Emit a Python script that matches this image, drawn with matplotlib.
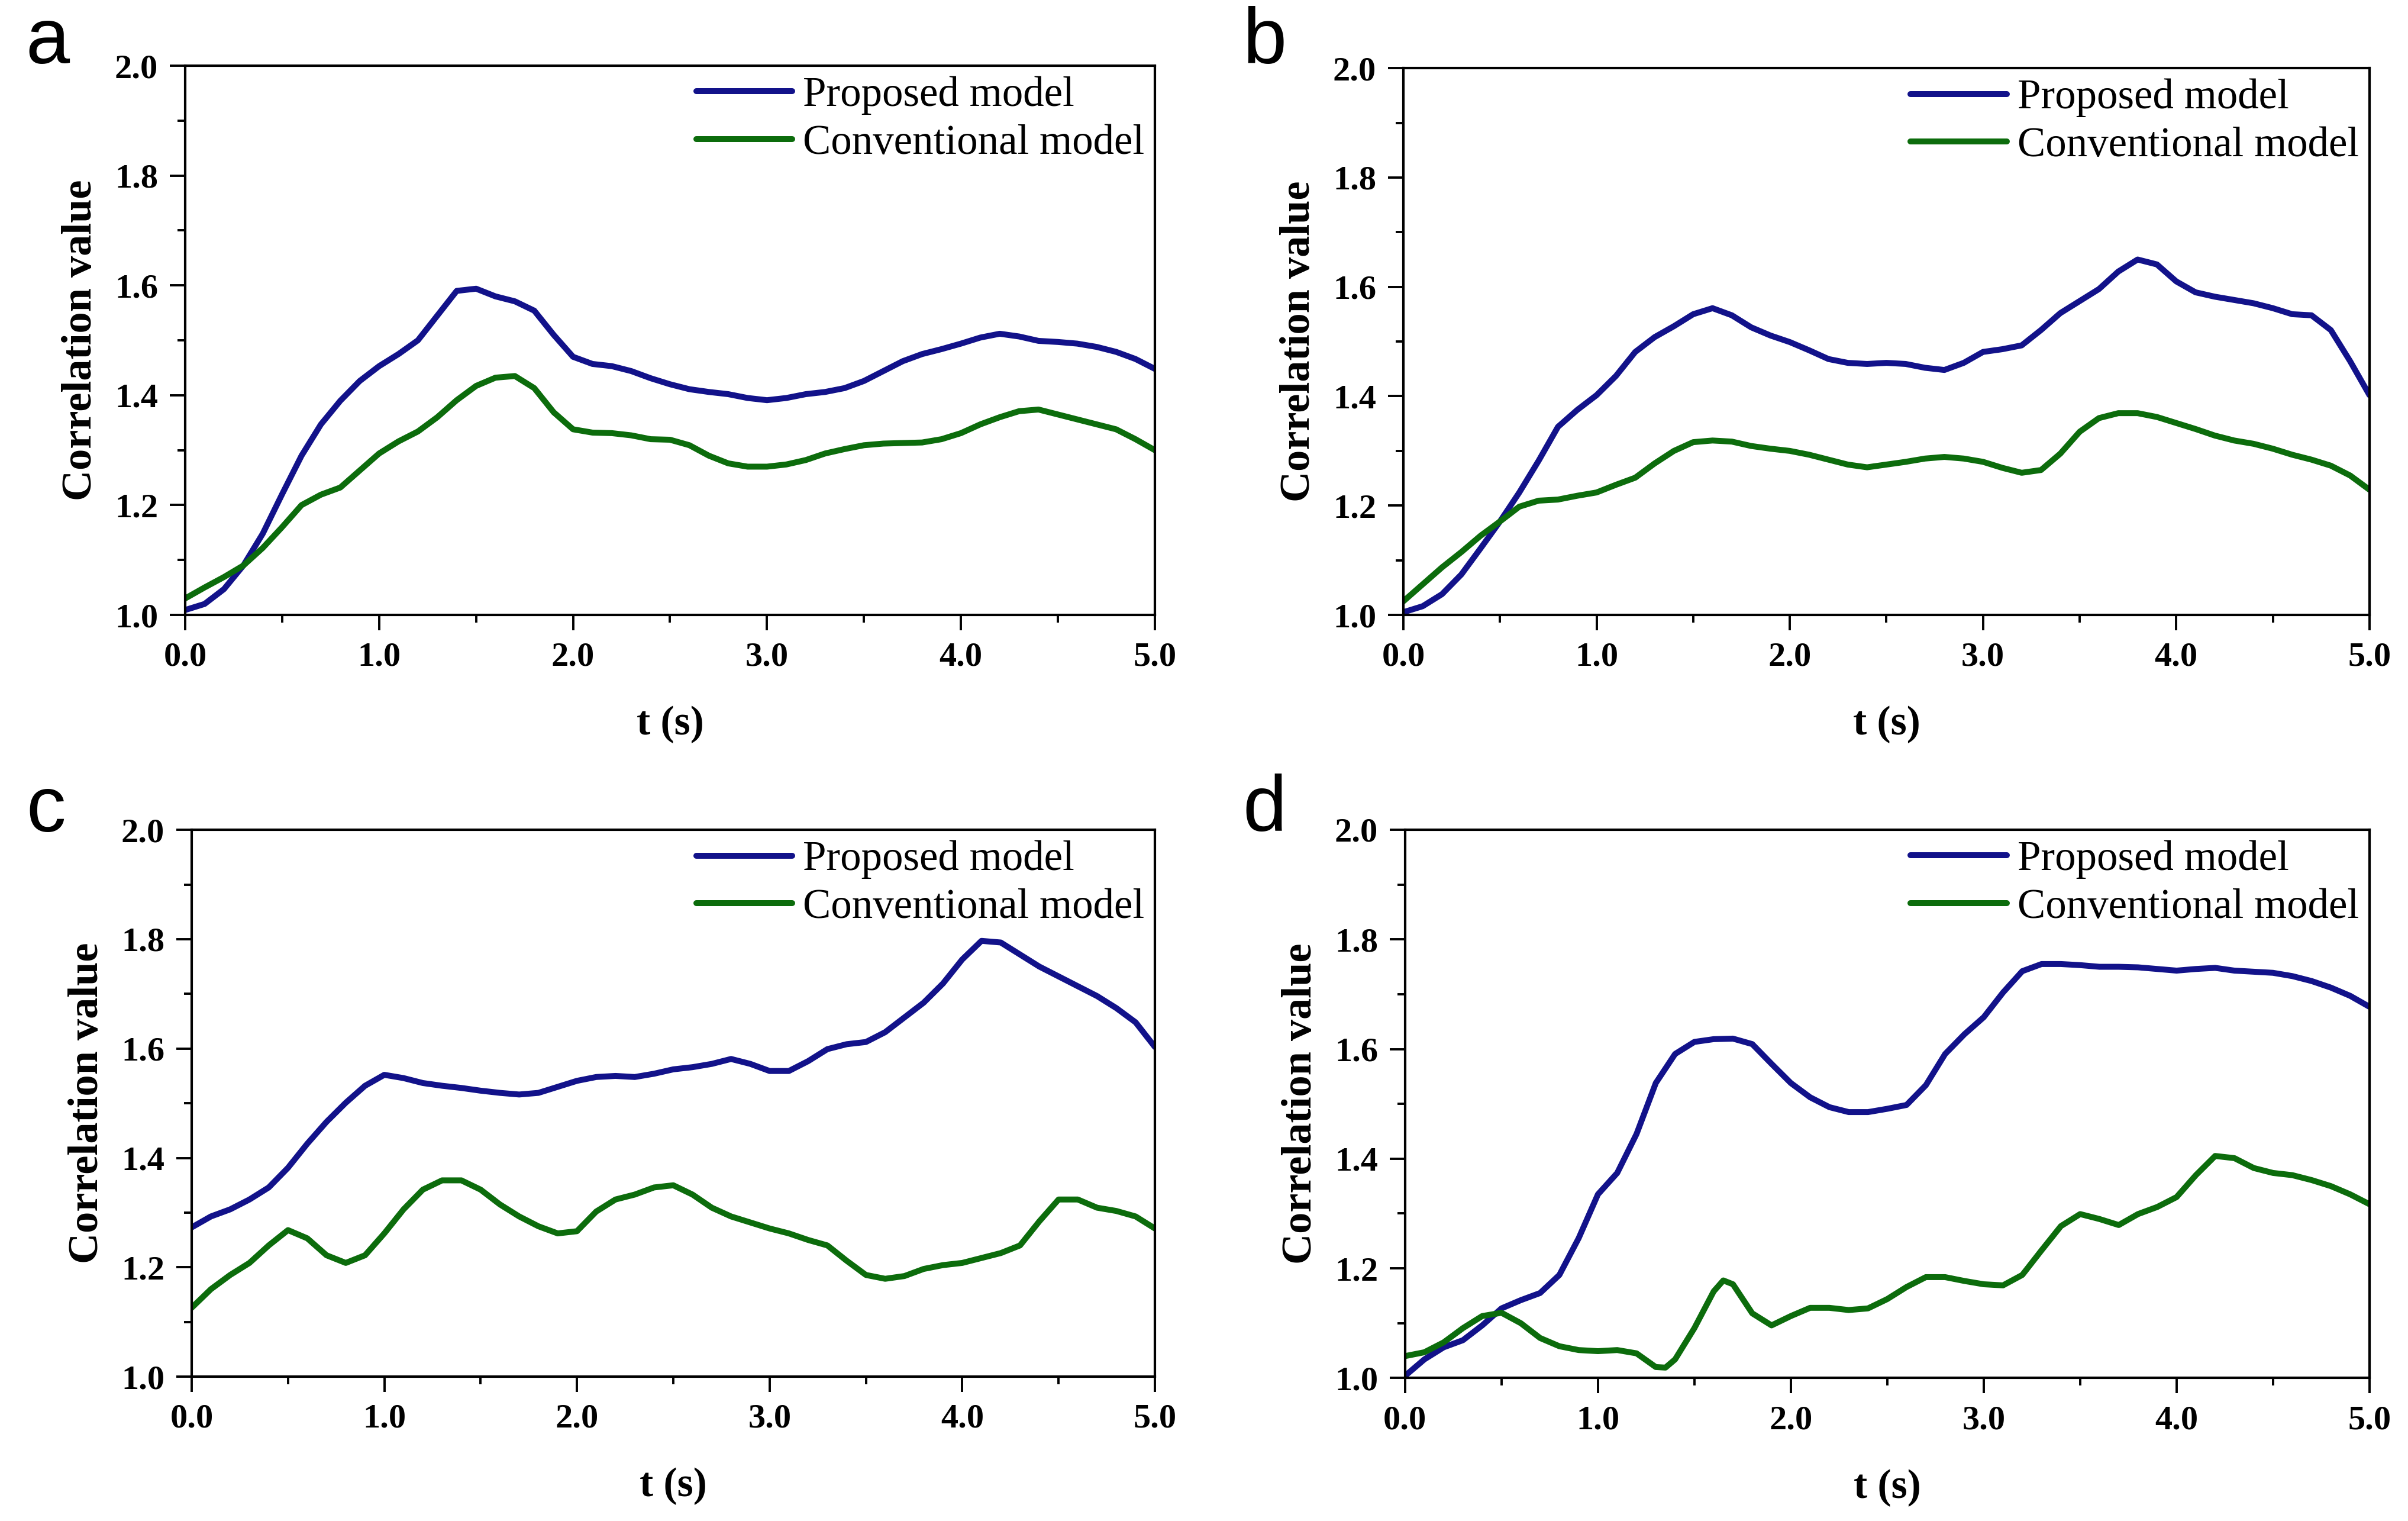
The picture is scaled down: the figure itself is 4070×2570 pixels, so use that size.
import numpy as np
import matplotlib
matplotlib.use("Agg")
from matplotlib import pyplot as plt
from matplotlib.ticker import MultipleLocator, FormatStrFormatter

# time axis (s), values read every 0.1 s
t = np.round(np.arange(0, 5.01, 0.1), 2)

# panel a
a_proposed = [1.009, 1.02, 1.047, 1.09, 1.148, 1.22, 1.29, 1.347, 1.39, 1.426,
              1.453, 1.475, 1.50, 1.545, 1.59, 1.594, 1.58, 1.571, 1.554, 1.51,
              1.47, 1.457, 1.453, 1.444, 1.431, 1.42, 1.411, 1.406, 1.402, 1.395,
              1.391, 1.395, 1.402, 1.406, 1.413, 1.426, 1.444, 1.462, 1.475, 1.484,
              1.494, 1.505, 1.512, 1.507, 1.499, 1.497, 1.494, 1.488, 1.479, 1.466,
              1.448]
a_conventional = [1.03, 1.05, 1.069, 1.09, 1.122, 1.16, 1.20, 1.219, 1.232, 1.263,
                  1.294, 1.316, 1.334, 1.36, 1.391, 1.417, 1.432, 1.435, 1.413, 1.369,
                  1.338, 1.332, 1.331, 1.327, 1.32, 1.319, 1.309, 1.29, 1.276, 1.27,
                  1.27, 1.274, 1.282, 1.294, 1.302, 1.309, 1.312, 1.313, 1.314, 1.32,
                  1.331, 1.347, 1.36, 1.371, 1.374, 1.365, 1.356, 1.347, 1.338, 1.32,
                  1.30]

# panel b
b_proposed = [1.005, 1.016, 1.038, 1.074, 1.122, 1.171, 1.224, 1.282, 1.344, 1.375,
              1.402, 1.437, 1.481, 1.508, 1.528, 1.55, 1.561, 1.548, 1.526, 1.511,
              1.499, 1.484, 1.468, 1.461, 1.459, 1.461, 1.459, 1.452, 1.448, 1.461,
              1.481, 1.486, 1.493, 1.521, 1.552, 1.574, 1.596, 1.628, 1.65, 1.641,
              1.61, 1.59, 1.582, 1.576, 1.57, 1.561, 1.55, 1.548, 1.521, 1.464,
              1.402]
b_conventional = [1.025, 1.056, 1.087, 1.115, 1.145, 1.171, 1.198, 1.209, 1.211, 1.218,
                  1.224, 1.238, 1.251, 1.277, 1.30, 1.316, 1.319, 1.317, 1.309, 1.304,
                  1.30, 1.293, 1.284, 1.275, 1.27, 1.275, 1.28, 1.286, 1.289, 1.286,
                  1.28, 1.269, 1.26, 1.265, 1.295, 1.335, 1.36, 1.369, 1.369, 1.362,
                  1.351, 1.34, 1.328, 1.319, 1.313, 1.304, 1.293, 1.284, 1.273, 1.255,
                  1.229]

# panel c
c_proposed = [1.273, 1.293, 1.306, 1.324, 1.346, 1.382, 1.426, 1.466, 1.501, 1.532,
              1.552, 1.546, 1.537, 1.532, 1.528, 1.523, 1.519, 1.516, 1.519, 1.53,
              1.541, 1.548, 1.55, 1.548, 1.554, 1.562, 1.566, 1.572, 1.581, 1.572,
              1.559, 1.559, 1.577, 1.599, 1.608, 1.612, 1.63, 1.657, 1.684, 1.719,
              1.763, 1.797, 1.794, 1.772, 1.75, 1.732, 1.714, 1.696, 1.674, 1.648,
              1.603]
c_conventional = [1.126, 1.16, 1.186, 1.208, 1.24, 1.268, 1.253, 1.222, 1.208, 1.222,
                  1.262, 1.306, 1.342, 1.359, 1.359, 1.342, 1.315, 1.293, 1.275, 1.262,
                  1.266, 1.302, 1.324, 1.333, 1.346, 1.35, 1.333, 1.309, 1.293, 1.282,
                  1.271, 1.262, 1.25, 1.24, 1.212, 1.186, 1.179, 1.184, 1.197, 1.204,
                  1.208, 1.217, 1.226, 1.24, 1.284, 1.324, 1.324, 1.309, 1.303, 1.293,
                  1.271]

# panel d
d_proposed = [1.004, 1.034, 1.056, 1.069, 1.096, 1.127, 1.142, 1.155, 1.188, 1.255,
              1.335, 1.374, 1.445, 1.538, 1.591, 1.613, 1.618, 1.619, 1.609, 1.573,
              1.538, 1.512, 1.494, 1.485, 1.485, 1.491, 1.498, 1.534, 1.591, 1.627,
              1.658, 1.703, 1.742, 1.755, 1.755, 1.753, 1.75, 1.75, 1.749, 1.746,
              1.743, 1.746, 1.748, 1.743, 1.741, 1.739, 1.733, 1.724, 1.712, 1.697,
              1.677]
t_d_conv = [0.0, 0.1, 0.2, 0.3, 0.4, 0.5, 0.6, 0.7, 0.8, 0.9,
            1.0, 1.1, 1.2, 1.3, 1.35, 1.4, 1.5, 1.6, 1.65, 1.7, 1.8, 1.9,
            2.0, 2.1, 2.2, 2.3, 2.4, 2.5, 2.6, 2.7, 2.8, 2.9,
            3.0, 3.1, 3.2, 3.3, 3.4, 3.5, 3.6, 3.7, 3.8, 3.9,
            4.0, 4.1, 4.2, 4.3, 4.4, 4.5, 4.6, 4.7, 4.8, 4.9, 5.0]
d_conventional = [1.04, 1.047, 1.065, 1.091, 1.113, 1.119, 1.10, 1.073, 1.058, 1.051,
                  1.049, 1.051, 1.045, 1.02, 1.019, 1.034, 1.091, 1.158, 1.178, 1.171, 1.118, 1.096,
                  1.113, 1.128, 1.128, 1.124, 1.127, 1.144, 1.166, 1.184, 1.184, 1.177,
                  1.171, 1.169, 1.188, 1.233, 1.277, 1.299, 1.29, 1.279, 1.299, 1.312,
                  1.33, 1.37, 1.405, 1.401, 1.383, 1.374, 1.37, 1.361, 1.35, 1.335, 1.317]

panel_letters = ["a", "b", "c", "d"]
legend_labels = ["Proposed model", "Conventional model"]
blue = "#12128a"
green = "#0c6c0c"

serif = "Liberation Serif"

fig = plt.figure(figsize=(20.35, 12.85), dpi=200)

# axes boxes [left, bottom, width, height] in figure fractions
boxes = [
    [0.0769, 0.5957, 0.4027, 0.3611],
    [0.5828, 0.5957, 0.4012, 0.3595],
    [0.0796, 0.0949, 0.4000, 0.3595],
    [0.5835, 0.0940, 0.4005, 0.3605],
]
letter_pos = [(0.0106, 0.9584), (0.516, 0.9584), (0.0110, 0.4533), (0.516, 0.4537)]

panels = [
    (t, a_proposed, t, a_conventional),
    (t, b_proposed, t, b_conventional),
    (t, c_proposed, t, c_conventional),
    (t, d_proposed, t_d_conv, d_conventional),
]

for box, (tp, yp, tc, yc), letter, lpos in zip(boxes, panels, panel_letters, letter_pos):
    ax = fig.add_axes(box)
    ax.plot(tp, yp, color=blue, lw=3.6, label=legend_labels[0],
            solid_capstyle="round", solid_joinstyle="round")
    ax.plot(tc, yc, color=green, lw=3.6, label=legend_labels[1],
            solid_capstyle="round", solid_joinstyle="round")

    ax.set_xlim(0, 5)
    ax.set_ylim(1.0, 2.0)
    ax.xaxis.set_major_locator(MultipleLocator(1.0))
    ax.xaxis.set_minor_locator(MultipleLocator(0.5))
    ax.yaxis.set_major_locator(MultipleLocator(0.2))
    ax.yaxis.set_minor_locator(MultipleLocator(0.1))
    ax.xaxis.set_major_formatter(FormatStrFormatter("%.1f"))
    ax.yaxis.set_major_formatter(FormatStrFormatter("%.1f"))
    ax.tick_params(which="major", direction="out", length=9.5, width=1.4, pad=7,
                   top=False, right=False)
    ax.tick_params(which="minor", direction="out", length=4.7, width=1.4,
                   top=False, right=False)
    for lab in ax.get_xticklabels() + ax.get_yticklabels():
        lab.set_fontfamily(serif)
        lab.set_fontweight("bold")
        lab.set_fontsize(21)
    for sp in ax.spines.values():
        sp.set_linewidth(1.5)

    ax.set_xlabel("t (s)", fontsize=25, fontweight="bold", family=serif, labelpad=20)
    ax.set_ylabel("Correlation value", fontsize=26, fontweight="bold", family=serif,
                  labelpad=9)

    leg = ax.legend(loc="upper right", bbox_to_anchor=(1.0, 1.0), frameon=False,
                    prop={"family": serif, "size": 25.5}, handlelength=2.3,
                    handletextpad=0.25, labelspacing=0.22, borderaxespad=0.05,
                    borderpad=0.2)
    for line in leg.get_lines():
        line.set_linewidth(3.6)
        line.set_solid_capstyle("round")

    fig.text(lpos[0], lpos[1], letter, fontsize=48, family="Liberation Sans",
             va="baseline", ha="left")

fig.savefig("out.png", dpi=200, facecolor="white")
